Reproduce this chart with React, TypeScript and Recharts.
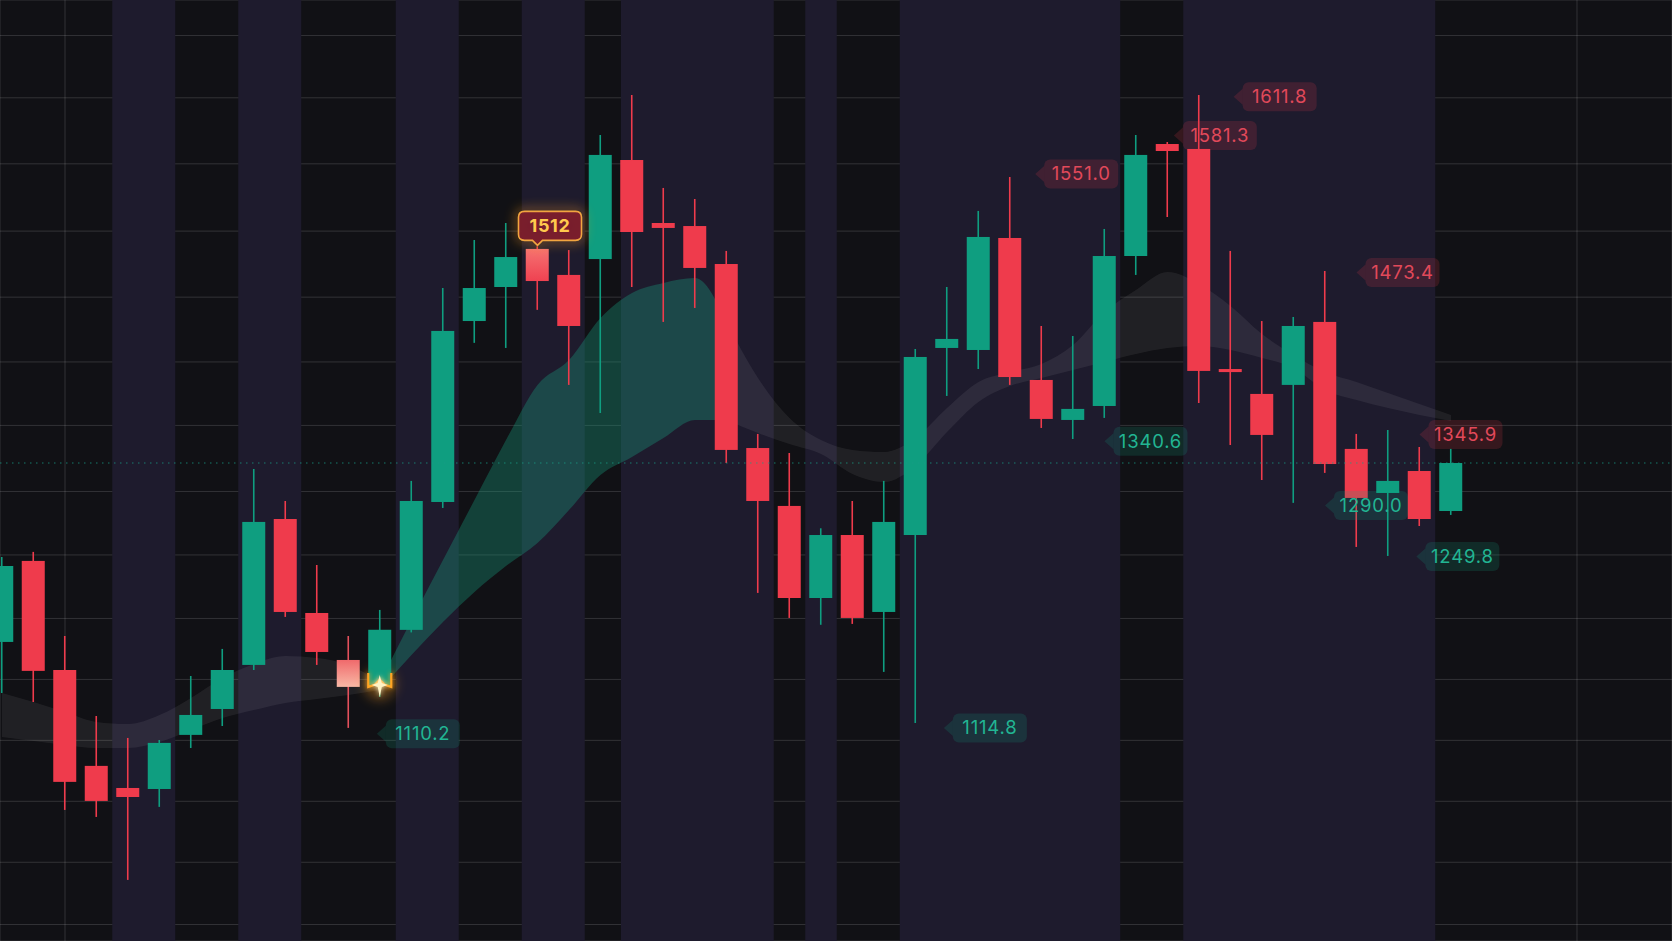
import React from 'react';
import {
  ComposedChart,
  Bar,
  Area,
  XAxis,
  YAxis,
  CartesianGrid,
  ReferenceArea,
  ReferenceLine,
  ReferenceDot,
} from 'recharts';

// OHLC, one entry per candle
const opens = [
  1182.5, 1246.3, 1160.4, 1084.9, 1067.5, 1066.7, 1109.3, 1129.7, 1164.4, 1279.3,
  1205.3, 1168.3, 1147.1, 1192.0, 1292.7, 1435.2, 1462.0, 1492.0, 1471.5, 1484.0,
  1562.0, 1512.4, 1510.0, 1480.1, 1335.2, 1289.6, 1217.1, 1266.7, 1206.1, 1266.7,
  1414.0, 1412.4, 1500.6, 1388.8, 1357.3, 1368.3, 1486.4, 1574.6, 1570.7, 1397.4,
  1377.8, 1384.9, 1434.5, 1334.5, 1299.8, 1317.1, 1285.6,
];
const highs = [
  1249.4, 1253.4, 1187.2, 1124.2, 1106.9, 1105.3, 1155.7, 1177.0, 1318.7, 1293.5,
  1243.1, 1187.2, 1207.7, 1309.3, 1461.2, 1499.0, 1512.4, 1494.0, 1491.1, 1581.7,
  1613.2, 1540.0, 1531.3, 1490.4, 1346.3, 1331.3, 1272.0, 1293.5, 1309.3, 1413.2,
  1462.0, 1521.9, 1548.6, 1431.3, 1423.4, 1507.7, 1581.7, 1576.2, 1613.2, 1490.4,
  1435.2, 1438.4, 1474.6, 1346.3, 1349.4, 1336.0, 1334.5,
];
const lows = [
  1142.3, 1135.2, 1050.2, 1044.7, 995.1, 1052.6, 1099.0, 1116.3, 1160.4, 1202.2,
  1164.4, 1114.8, 1139.2, 1190.0, 1288.0, 1418.0, 1414.0, 1444.0, 1384.9, 1362.8,
  1462.0, 1434.5, 1445.5, 1323.4, 1221.1, 1201.4, 1196.0, 1196.7, 1158.9, 1118.7,
  1376.2, 1397.4, 1384.9, 1351.0, 1342.3, 1358.9, 1471.5, 1517.1, 1370.7, 1337.6,
  1310.0, 1292.0, 1315.6, 1257.3, 1250.2, 1273.8, 1282.5,
];
const closes = [
  1242.3, 1159.7, 1072.3, 1057.3, 1060.4, 1103.0, 1125.0, 1160.4, 1277.0, 1206.1,
  1174.6, 1147.1, 1192.0, 1293.5, 1427.4, 1461.2, 1485.6, 1466.7, 1431.3, 1566.0,
  1505.3, 1508.5, 1477.0, 1333.7, 1293.5, 1217.1, 1266.7, 1201.4, 1277.0, 1406.9,
  1421.1, 1501.4, 1391.1, 1358.1, 1366.0, 1486.4, 1566.0, 1569.1, 1395.9, 1395.0,
  1345.5, 1431.3, 1322.6, 1295.9, 1309.3, 1279.3, 1323.4,
];

// moving-average cloud edges
const cloudUpper = [
  1142.3, 1135.2, 1127.4, 1119.5, 1117.9, 1125.0, 1138.4, 1154.1, 1165.2, 1171.5,
  1169.9, 1164.4, 1151.0, 1199.8, 1247.1, 1294.3, 1341.5, 1384.9, 1404.5, 1437.6,
  1457.3, 1465.2, 1469.1, 1434.5, 1390.4, 1358.9, 1341.5, 1333.7, 1332.1, 1343.1,
  1366.7, 1387.2, 1395.1, 1401.4, 1416.3, 1442.3, 1459.7, 1473.8, 1464.4, 1447.1,
  1425.0, 1408.5, 1395.1, 1387.2, 1378.6, 1369.9, 1361.2,
];
const cloudLower = [
  1107.7, 1104.5, 1101.4, 1099.0, 1099.0, 1103.7, 1113.2, 1122.6, 1128.9, 1134.5,
  1137.6, 1140.8, 1144.7, 1172.3, 1198.2, 1221.9, 1242.3, 1260.4, 1286.4, 1314.0,
  1328.2, 1343.1, 1357.3, 1357.3, 1347.1, 1338.4, 1330.5, 1314.8, 1308.5, 1321.1,
  1347.8, 1371.5, 1384.1, 1390.4, 1396.7, 1403.0, 1409.3, 1414.0, 1415.6, 1412.4,
  1406.1, 1398.2, 1380.9, 1373.0, 1366.7, 1361.2, 1356.5,
];
const bullFrom = 12;
const bullTo = 23;

// shaded session columns, in candle-index units
const sessionStarts = [3.5, 7.5, 12.5, 16.5, 19.65, 25.5, 28.5, 37.5];
const sessionEnds = [5.5, 9.5, 14.5, 18.5, 24.5, 26.5, 35.5, 45.5];

// grid positions
const gridCols = [2, 8, 14, 20, 26, 32, 38, 44, 50];
const gridRows = [1660, 1611, 1559, 1506, 1454, 1403, 1353, 1301, 1251, 1201, 1153, 1105, 1057, 1009, 960];

// price tags: value, anchor (candle index of arrow tip), kind
const tagValues = [1611.8, 1581.3, 1551.0, 1473.4, 1345.9, 1340.6, 1290.0, 1249.8, 1114.8, 1110.2];
const tagAnchors = [39.1, 37.2, 32.8, 43.0, 45.0, 35.0, 42.0, 44.9, 29.9, 11.9];
const tagKinds = ['red', 'red', 'red', 'red', 'red', 'green', 'green', 'green', 'green', 'green'];

const calloutIdx = 17;
const calloutText = '1512';
const softIdx = 11;
const glowIdx = 12;

const GREEN = '#0f9e80';
const RED = '#ef3b4c';
const W = 1672;
const H = 941;
const FONT = 'Inter, "Noto Sans", sans-serif';

const data = opens.map((o, i) => ({
  idx: i,
  open: o,
  high: highs[i],
  low: lows[i],
  close: closes[i],
  range: [lows[i], highs[i]],
  gray: i <= bullFrom || i >= bullTo ? [cloudLower[i], cloudUpper[i]] : null,
  bull: i >= bullFrom && i <= bullTo ? [cloudLower[i], cloudUpper[i]] : null,
}));

function Candle(props: any) {
  const { x, y, width, height, payload } = props;
  if (!payload) return null;
  const { open, close, high, low, idx } = payload;
  const top = Math.min(y, y + height);
  const span = Math.abs(height);
  const k = span / Math.max(high - low, 0.0001);
  const up = close >= open;
  const bTop = top + (high - Math.max(open, close)) * k;
  let bBot = top + (high - Math.min(open, close)) * k;
  if (bBot - bTop < 3) bBot = bTop + 3;
  const cx = x + width / 2;
  const color = up ? GREEN : RED;
  let fill = color;
  if (idx === softIdx) fill = 'url(#softPink)';
  if (idx === calloutIdx) fill = 'url(#hotRed)';

  if (idx === glowIdx) {
    const body = `M${x},${bTop} H${x + width} V${bBot} L${cx + 5},${bBot - 2} L${cx},${bBot - 7} L${cx - 5},${bBot - 2} L${x},${bBot} Z`;
    const rim = `M${x},${bBot - 14} V${bBot} L${cx - 5},${bBot - 2} L${cx},${bBot - 7} L${cx + 5},${bBot - 2} L${x + width},${bBot} V${bBot - 14}`;
    return (
      <g>
        <line x1={cx} x2={cx} y1={top} y2={top + span} stroke={color} strokeWidth={1.6} />
        <circle cx={cx} cy={bBot - 3} r={16} fill="#ff9f1a" opacity={0.35} filter="url(#blur6)" />
        <path d={body} fill={fill} />
        <path d={rim} fill="none" stroke="#ffa423" strokeWidth={2.2} filter="url(#glow)" />
        <path
          d={`M${cx},${bBot - 12} L${cx + 2},${bBot - 4} L${cx + 8},${bBot - 2} L${cx + 2},${bBot} L${cx},${bBot + 10} L${cx - 2},${bBot} L${cx - 8},${bBot - 2} L${cx - 2},${bBot - 4} Z`}
          fill="#fff3c4"
          filter="url(#glow)"
        />
      </g>
    );
  }

  return (
    <g>
      <line
        x1={cx}
        x2={cx}
        y1={top}
        y2={top + span}
        stroke={idx === softIdx ? '#e4505c' : color}
        strokeWidth={1.6}
      />
      <rect x={x} y={bTop} width={width} height={bBot - bTop} fill={fill} />
    </g>
  );
}

function PriceTag(props: any) {
  const { cx, cy, text, kind } = props;
  if (cx == null || cy == null) return null;
  const red = kind === 'red';
  const bg = red ? 'rgba(236,58,76,0.17)' : 'rgba(18,170,138,0.17)';
  const fg = red ? '#e2495a' : '#22b593';
  const notch = 9;
  const w = 74;
  const h = 29;
  const left = cx + notch;
  return (
    <g>
      <polygon points={`${cx},${cy} ${left},${cy - 8} ${left},${cy + 8}`} fill={bg} />
      <rect x={left} y={cy - h / 2} width={w} height={h} rx={6} fill={bg} />
      <text
        x={left + w / 2}
        y={cy + 6.5}
        textAnchor="middle"
        fill={fg}
        fontSize={18.5}
        fontFamily={FONT}
        letterSpacing={0.8}
      >
        {text}
      </text>
    </g>
  );
}

function Callout(props: any) {
  const { cx, cy, text } = props;
  if (cx == null || cy == null) return null;
  const left = cx - 19;
  const w = 63;
  const h = 29;
  const bottom = cy - 6;
  const topY = bottom - h;
  const outline = `M${left + 6},${topY} H${left + w - 6} Q${left + w},${topY} ${left + w},${topY + 6} V${bottom - 6} Q${left + w},${bottom} ${left + w - 6},${bottom} H${cx + 5} L${cx},${bottom + 5} L${cx - 5},${bottom} H${left + 6} Q${left},${bottom} ${left},${bottom - 6} V${topY + 6} Q${left},${topY} ${left + 6},${topY} Z`;
  return (
    <g>
      <path d={outline} fill="none" stroke="#ff9d1f" strokeWidth={5} opacity={0.55} filter="url(#blur6)" />
      <path d={outline} fill="#7c1d2c" fillOpacity={0.95} stroke="#f2a540" strokeWidth={1.6} />
      <text
        x={left + w / 2}
        y={topY + 21}
        textAnchor="middle"
        fill="#ffc94d"
        fontSize={18}
        fontWeight={700}
        fontFamily={FONT}
        letterSpacing={0.6}
      >
        {text}
      </text>
    </g>
  );
}

export default function App() {
  return (
    <div
      style={{
        position: 'fixed',
        left: 0,
        top: 0,
        width: W,
        height: H,
        background: '#111115',
        overflow: 'hidden',
      }}
    >
      <ComposedChart width={W} height={H} data={data} margin={{ top: 0, right: 0, bottom: 0, left: 0 }}>
        <defs>
          <linearGradient id="softPink" x1="0" y1="0" x2="0" y2="1">
            <stop offset="0%" stopColor="#f06a6c" />
            <stop offset="100%" stopColor="#f8b8a6" />
          </linearGradient>
          <linearGradient id="hotRed" x1="0" y1="0" x2="0" y2="1">
            <stop offset="0%" stopColor="#f57272" />
            <stop offset="100%" stopColor="#ef4251" />
          </linearGradient>
          <filter id="glow" x="-50%" y="-50%" width="200%" height="200%">
            <feGaussianBlur stdDeviation="2.5" result="b" />
            <feMerge>
              <feMergeNode in="b" />
              <feMergeNode in="SourceGraphic" />
            </feMerge>
          </filter>
          <filter id="blur6" x="-100%" y="-100%" width="300%" height="300%">
            <feGaussianBlur stdDeviation="6" />
          </filter>
        </defs>

        {sessionStarts.map((s, i) => (
          <ReferenceArea
            key={`band-${i}`}
            x1={s}
            x2={sessionEnds[i]}
            fill="#1e1b2d"
            fillOpacity={1}
            stroke="none"
            ifOverflow="visible"
          />
        ))}

        <CartesianGrid stroke="rgba(255,255,255,0.14)" strokeWidth={1} />

        <XAxis
          dataKey="idx"
          type="number"
          domain={[-0.0635, 53.016]}
          ticks={gridCols}
          allowDataOverflow
          hide
        />
        <YAxis type="number" domain={[947, 1688]} ticks={gridRows} allowDataOverflow hide />

        <Area
          dataKey="gray"
          type="monotone"
          stroke="none"
          fill="#ffffff"
          fillOpacity={0.065}
          dot={false}
          activeDot={false}
          isAnimationActive={false}
        />
        <Area
          dataKey="bull"
          type="monotone"
          stroke="none"
          fill="#17a583"
          fillOpacity={0.33}
          dot={false}
          activeDot={false}
          isAnimationActive={false}
        />

        <ReferenceLine
          y={closes[closes.length - 1]}
          stroke="#1a9e86"
          strokeOpacity={0.75}
          strokeWidth={1.2}
          strokeDasharray="1.5 4.5"
        />

        {tagValues.map((v, i) => (
          <ReferenceDot
            key={`tag-${i}`}
            x={tagAnchors[i]}
            y={v}
            r={0}
            ifOverflow="visible"
            shape={(p: any) => <PriceTag {...p} text={v.toFixed(1)} kind={tagKinds[i]} />}
          />
        ))}

        <Bar dataKey="range" barSize={23} shape={<Candle />} isAnimationActive={false} />

        <ReferenceDot
          x={calloutIdx}
          y={highs[calloutIdx]}
          r={0}
          ifOverflow="visible"
          shape={(p: any) => <Callout {...p} text={calloutText} />}
        />
      </ComposedChart>
    </div>
  );
}
